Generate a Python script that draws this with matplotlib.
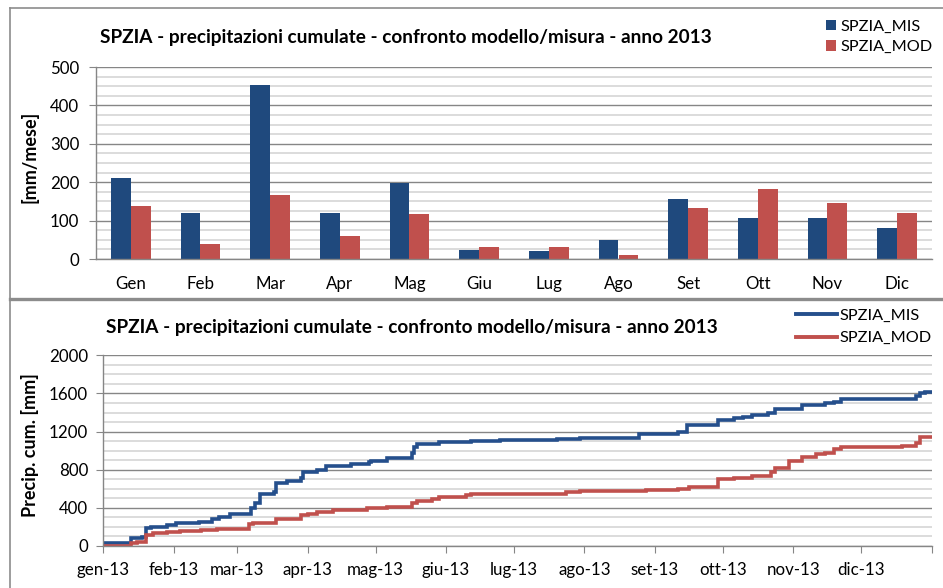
import matplotlib
matplotlib.use("Agg")
import matplotlib.pyplot as plt
from matplotlib.ticker import MultipleLocator
from matplotlib.lines import Line2D
import numpy as np

plt.rcParams['font.family'] = ['Lato', 'DejaVu Sans']

titolo = "SPZIA - precipitazioni cumulate - confronto modello/misura - anno 2013"

# precipitazioni mensili [mm/mese]
mesi = ['Gen', 'Feb', 'Mar', 'Apr', 'Mag', 'Giu', 'Lug', 'Ago', 'Set', 'Ott', 'Nov', 'Dic']
mis_mese = [210, 121, 453, 119, 198, 24, 22, 50, 157, 108, 108, 80]
mod_mese = [138, 39, 166, 60, 116, 31, 31, 10, 134, 182, 146, 119]

# cumulate giornaliere: giorno dell'anno in cui cambia il valore, valore cumulato [mm]
mis_giorno = [0, 12, 17, 19, 21, 28, 32, 42, 48, 51, 56, 65, 67, 69, 75, 76, 81, 87, 88,
              94, 98, 109, 117, 118, 125, 136, 137, 138, 148, 162, 175, 200, 210, 236,
              253, 257, 271, 278, 282, 286, 293, 296, 308, 318, 322, 325, 358, 360, 362, 365]
mis_cum = [35, 80, 98, 185, 203, 220, 238, 255, 280, 308, 332, 395, 448, 545, 570, 664, 678,
           710, 780, 794, 843, 860, 881, 895, 920, 972, 1042, 1070, 1091, 1101, 1112, 1122,
           1136, 1171, 1199, 1269, 1322, 1339, 1357, 1371, 1399, 1434, 1483, 1497, 1514,
           1542, 1573, 1601, 1615, 1615]
mod_giorno = [0, 12, 15, 19, 22, 28, 34, 43, 50, 56, 64, 66, 76, 85, 87, 90, 94, 101, 116,
              125, 136, 138, 145, 148, 160, 162, 204, 210, 239, 253, 258, 271, 278, 286,
              294, 296, 302, 308, 314, 318, 322, 325, 352, 358, 360, 365]
mod_cum = [5, 28, 45, 115, 133, 143, 161, 168, 175, 178, 227, 238, 280, 287, 325, 336, 360,
           378, 395, 406, 448, 476, 490, 510, 531, 542, 563, 577, 587, 598, 622, 703, 717,
           734, 780, 822, 892, 937, 965, 979, 1014, 1042, 1049, 1077, 1147, 1147]

giorni_mese = [31, 28, 31, 30, 31, 30, 31, 31, 30, 31, 30, 31]
etichette_mese = ['gen-13', 'feb-13', 'mar-13', 'apr-13', 'mag-13', 'giu-13',
                  'lug-13', 'ago-13', 'set-13', 'ott-13', 'nov-13', 'dic-13']

BLU = '#1F497D'
ROSSO = '#C0504D'
BLU_LINEA = '#254F8C'
GRIGIO = '#868686'
GRIGIO_CHIARO = '#d6d6d6'

FS_TITOLO = 13.7
FS_TICK = 12.2
FS_LEG = 11.7
FS_YLAB = 13

W, H = 943, 588
fig = plt.figure(figsize=(W / 100, H / 100), dpi=100)


def fx(px):
    return px / W


def fy(py):
    return 1 - py / H


def stile_assi(ax, pad_y):
    for s in ['top', 'right']:
        ax.spines[s].set_visible(False)
    for s in ['left', 'bottom']:
        ax.spines[s].set_color(GRIGIO)
        ax.spines[s].set_linewidth(1)
    ax.grid(which='major', axis='y', color=GRIGIO, lw=1)
    ax.grid(which='minor', axis='y', color=GRIGIO_CHIARO, lw=1.2)
    ax.set_axisbelow(True)
    ax.tick_params(which='minor', left=False)
    ax.tick_params(axis='y', which='major', length=5, color=GRIGIO, labelsize=FS_TICK, pad=pad_y)


# --- grafico a barre mensile ---
ax1 = fig.add_axes([fx(96), fy(259), fx(932) - fx(96), fy(67) - fy(259)])
x = np.arange(len(mesi))
w = 0.287
b1 = ax1.bar(x - w / 2, mis_mese, w, color=BLU, label='SPZIA_MIS')
b2 = ax1.bar(x + w / 2, mod_mese, w, color=ROSSO, label='SPZIA_MOD')
ax1.set_xlim(-0.5, 11.5)
ax1.set_ylim(0, 500)
ax1.yaxis.set_major_locator(MultipleLocator(100))
ax1.yaxis.set_minor_locator(MultipleLocator(25))
stile_assi(ax1, 7)
ax1.set_xticks(x)
ax1.set_xticklabels(mesi)
ax1.tick_params(axis='x', length=0, labelsize=FS_TICK, pad=12)
ax1.legend(handles=[b1, b2], loc='upper left', bbox_to_anchor=(fx(826), fy(19.5)),
           bbox_transform=fig.transFigure, frameon=False, fontsize=FS_LEG,
           handlelength=0.62, handleheight=0.62, handletextpad=0.25,
           labelspacing=0.42, borderpad=0, borderaxespad=0)

fig.text(fx(100), fy(43), titolo, fontsize=FS_TITOLO, fontweight='bold', ha='left', va='baseline')
fig.text(fx(30), fy(157), '[mm/mese]', fontsize=FS_YLAB, fontweight='bold',
         rotation=90, ha='center', va='center')

# --- grafico cumulate ---
ax2 = fig.add_axes([fx(103.3), fy(546), fx(931.7) - fx(103.3), fy(355.3) - fy(546)])
ax2.plot(mis_giorno, mis_cum, drawstyle='steps-post', color=BLU_LINEA, lw=2.6,
         solid_joinstyle='miter')
ax2.plot(mod_giorno, mod_cum, drawstyle='steps-post', color=ROSSO, lw=2.6,
         solid_joinstyle='miter')
ax2.set_xlim(0, 365)
ax2.set_ylim(0, 2000)
ax2.yaxis.set_major_locator(MultipleLocator(400))
ax2.yaxis.set_minor_locator(MultipleLocator(100))
stile_assi(ax2, 6)
inizi = np.concatenate([[0], np.cumsum(giorni_mese)])
ax2.set_xticks(inizi)
ax2.set_xticklabels(etichette_mese + [''])
ax2.tick_params(axis='x', length=5, color=GRIGIO, labelsize=FS_TICK, pad=6.8)
maniglie = [Line2D([], [], color=BLU_LINEA, lw=2.8), Line2D([], [], color=ROSSO, lw=2.8)]
ax2.legend(maniglie, ['SPZIA_MIS', 'SPZIA_MOD'], loc='upper left',
           bbox_to_anchor=(fx(796), fy(308.5)), bbox_transform=fig.transFigure,
           frameon=False, fontsize=FS_LEG, handlelength=2.5, handletextpad=0.2,
           labelspacing=0.49, borderpad=0, borderaxespad=0)

fig.text(fx(106), fy(333), titolo, fontsize=FS_TITOLO, fontweight='bold', ha='left', va='baseline')
fig.text(fx(30), fy(445), 'Precip. cum. [mm]', fontsize=FS_YLAB, fontweight='bold',
         rotation=90, ha='center', va='center')

# cornici dei due riquadri
bordo = dict(color='#8c8c8c', transform=fig.transFigure)
fig.add_artist(Line2D([fx(9.5), 1], [fy(7.5), fy(7.5)], lw=1.2, **bordo))
fig.add_artist(Line2D([fx(9.5), fx(9.5)], [fy(7.5), fy(298)], lw=1.2, **bordo))
fig.add_artist(Line2D([fx(9.5), 1], [fy(298.5), fy(298.5)], lw=2.4, **bordo))
fig.add_artist(Line2D([fx(10), fx(10)], [fy(299), 0], lw=1.2, **bordo))

fig.savefig('out.png', dpi=100)
